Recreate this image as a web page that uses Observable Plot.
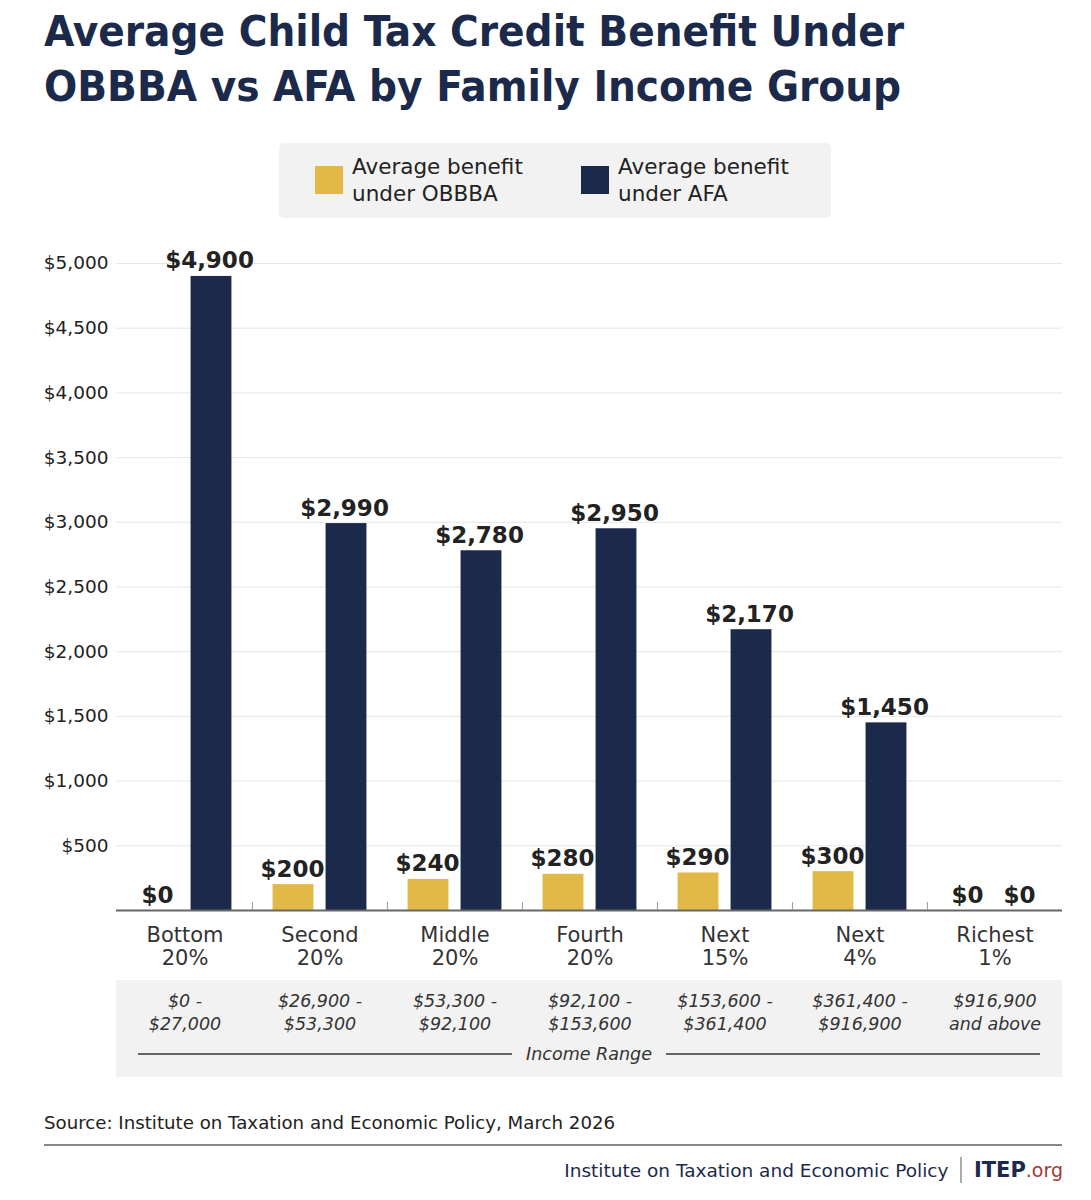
<!DOCTYPE html>
<html>
<head>
<meta charset="utf-8">
<script src="https://cdn.jsdelivr.net/npm/d3@7"></script>
<script src="https://cdn.jsdelivr.net/npm/@observablehq/plot@0.6"></script>
<style>
  html, body { margin: 0; padding: 0; background: #fff; }
  body { width: 1091px; height: 1200px; position: relative; overflow: hidden; font-family: "DejaVu Sans", sans-serif; }
  #title { position: absolute; left: 44px; top: 4px; font-family: "DejaVu Sans Condensed", "DejaVu Sans", sans-serif; font-stretch: condensed; font-weight: bold; font-size: 43.5px; line-height: 55px; color: #1b2a4a; white-space: nowrap; }
  #legend { position: absolute; left: 279px; top: 143px; width: 552px; height: 75px; background: #f2f2f2; border-radius: 5px; }
  .lg { position: absolute; top: 10px; display: flex; align-items: center; }
  .sw { width: 28px; height: 28px; margin-right: 9px; }
  .lt { font-size: 21.5px; line-height: 27px; color: #222; }
  #band { position: absolute; left: 116px; top: 980px; width: 946px; height: 97px; background: #f2f2f2; }
  #range { position: absolute; left: 138px; width: 902px; top: 1043px; height: 22px; display: flex; align-items: center; }
  #range .ln { flex: 1; height: 2px; background: #666; }
  #range .tx { font-style: italic; font-size: 17.5px; color: #333; padding: 0 14px; }
  #chart { position: absolute; left: 0; top: 230px; }
  #source { position: absolute; left: 44px; top: 1112px; font-size: 18.2px; color: #222; }
  #rule { position: absolute; left: 44px; top: 1144px; width: 1018px; height: 2px; background: #888; }
  #footer { position: absolute; right: 28px; top: 1157px; display: flex; align-items: center; font-size: 18.5px; color: #1b2a4a; }
  #footer .sep { width: 1.5px; height: 26px; background: #aaa; margin: 0 12px; }
  #footer b { font-weight: bold; font-size: 21px; }
  #footer .org { color: #a23a3a; font-size: 19px; }
</style>
</head>
<body>
<div id="title">Average Child Tax Credit Benefit Under<br>OBBBA vs AFA by Family Income Group</div>
<div id="legend"></div>
<div id="band"></div>
<div id="range"><div class="ln"></div><div class="tx">Income Range</div><div class="ln"></div></div>
<div id="chart"></div>
<div id="source">Source: Institute on Taxation and Economic Policy, March 2026</div>
<div id="rule"></div>
<div id="footer"><span>Institute on Taxation and Economic Policy</span><span class="sep"></span><b>ITEP</b><span class="org">.org</span></div>
<script>
// ---- data ----
const groups = ["Bottom 20%", "Second 20%", "Middle 20%", "Fourth 20%", "Next 15%", "Next 4%", "Richest 1%"];
const groupLabels = ["Bottom\n20%", "Second\n20%", "Middle\n20%", "Fourth\n20%", "Next\n15%", "Next\n4%", "Richest\n1%"];
const incomeRanges = ["$0 -\n$27,000", "$26,900 -\n$53,300", "$53,300 -\n$92,100", "$92,100 -\n$153,600", "$153,600 -\n$361,400", "$361,400 -\n$916,900", "$916,900\nand above"];
const obbba = [0, 200, 240, 280, 290, 300, 0];
const afa = [4900, 2990, 2780, 2950, 2170, 1450, 0];
const seriesNames = ["Average benefit under OBBBA", "Average benefit under AFA"];
const seriesLegend = ["Average benefit\nunder OBBBA", "Average benefit\nunder AFA"];
const seriesColors = ["#e2b946", "#1b2a4a"];
const yTicks = [500, 1000, 1500, 2000, 2500, 3000, 3500, 4000, 4500, 5000];

// ---- legend ----
const legend = document.getElementById("legend");
const lgX = [36, 302];
seriesNames.forEach((s, i) => {
  const d = document.createElement("div");
  d.className = "lg";
  d.style.left = lgX[i] + "px";
  d.innerHTML = `<div class="sw" style="background:${seriesColors[i]}"></div><div class="lt">${seriesLegend[i].replace("\n", "<br>")}</div>`;
  legend.appendChild(d);
});

// ---- table ----
const rows = groups.map((g, i) => ({group: g, obbba: obbba[i], afa: afa[i], label: groupLabels[i], range: incomeRanges[i]}));
const fmt = d3.format(",");
const money = d => "$" + fmt(d);

const W = 1091, ML = 116, MR = 29;
const step = (W - ML - MR) / groups.length;
const barW = 41, gap = 12;
const innerOff = step / 2 - gap / 2 - barW;
const farInset = step / 2 + gap / 2;
const labelShift = gap / 2 + barW / 2;

const plot = Plot.plot({
  width: W,
  height: 860,
  marginTop: 33,
  marginBottom: 180,
  marginLeft: ML,
  marginRight: MR,
  style: {background: "transparent", fontFamily: "DejaVu Sans, sans-serif", color: "#222"},
  x: {domain: groups, padding: 0, label: null},
  y: {domain: [0, 5000], label: null},
  marks: [
    Plot.gridY(yTicks, {stroke: "#e6e6e6", strokeOpacity: 1, strokeWidth: 1}),
    Plot.barY(rows, {x: "group", y: "obbba", fill: seriesColors[0], insetLeft: innerOff, insetRight: farInset}),
    Plot.barY(rows, {x: "group", y: "afa", fill: seriesColors[1], insetLeft: farInset, insetRight: innerOff}),
    Plot.ruleY([0], {stroke: "#666", strokeWidth: 2}),
    Plot.ruleX(groups.slice(1), {x: d => d, dx: -step / 2, stroke: "#999", strokeWidth: 1, insetTop: 647 - 8}),
    Plot.text(rows, {x: "group", y: "obbba", text: d => money(d.obbba), dx: -labelShift - 1, dy: -8, lineAnchor: "bottom", fontSize: 23, fontWeight: "bold", fill: "#222"}),
    Plot.text(rows, {x: "group", y: "afa", text: d => money(d.afa), dx: labelShift - 2, dy: -8, lineAnchor: "bottom", fontSize: 23, fontWeight: "bold", fill: "#222"}),
    Plot.axisY({ticks: yTicks, tickSize: 0, tickPadding: 8, tickFormat: money, fontSize: 18.5, fill: "#222", label: null}),
    Plot.axisX({tickSize: 0, tickPadding: 14, tickFormat: d => groupLabels[groups.indexOf(d)], fontSize: 21, lineHeight: 1.14, fill: "#333", label: null}),
    Plot.text(rows, {x: "group", text: "range", frameAnchor: "bottom", dy: 101, lineAnchor: "middle", lineHeight: 1.3, fontSize: 17.5, fontStyle: "italic", fill: "#333"})
  ]
});
document.getElementById("chart").appendChild(plot);
</script>
</body>
</html>
